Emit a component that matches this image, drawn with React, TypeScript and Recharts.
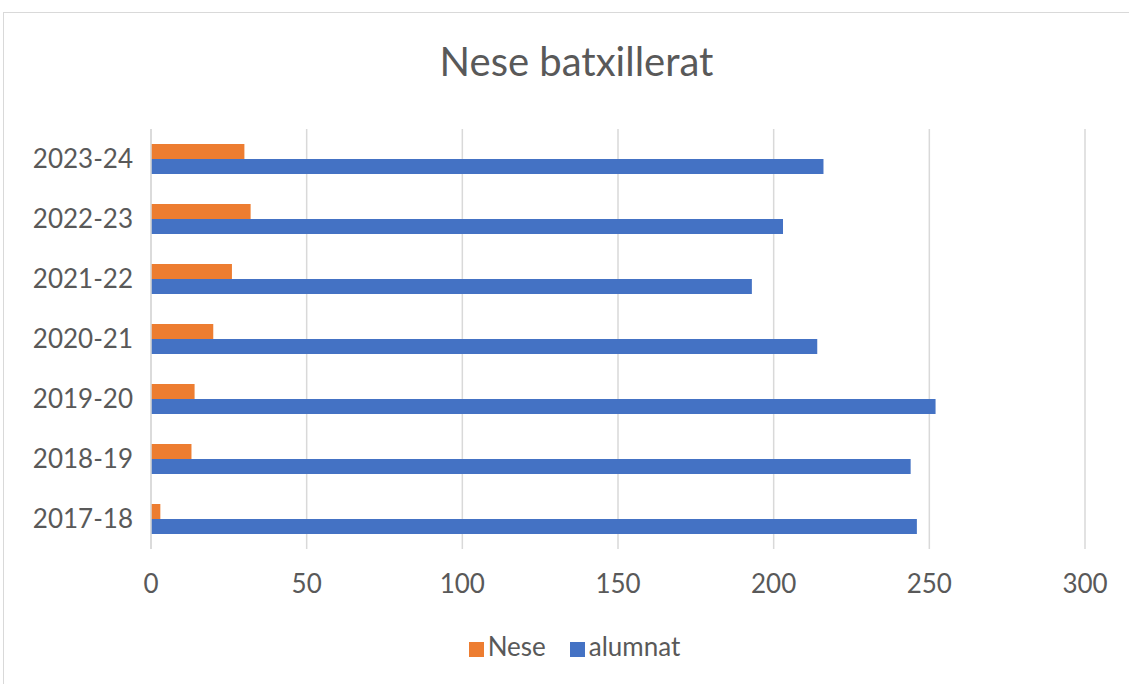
import { BarChart, Bar, XAxis, YAxis, CartesianGrid, Legend } from 'recharts';

// school years, top to bottom as in the chart
const years = ['2023-24', '2022-23', '2021-22', '2020-21', '2019-20', '2018-19', '2017-18'];
const nese = [30, 32, 26, 20, 14, 13, 3];
const alumnat = [216, 203, 193, 214, 252, 244, 246];
const xTicks = [0, 50, 100, 150, 200, 250, 300];

const data = years.map((year, i) => ({ year, Nese: nese[i], alumnat: alumnat[i] }));

const FONT = 'Lato, "Open Sans", sans-serif';
const TEXT = '#595959';

export default function App() {
  return (
    <div style={{ position: 'absolute', left: 0, top: 0, width: 1129, height: 684, background: '#fff', overflow: 'hidden', fontFamily: FONT }}>
      <div style={{ position: 'absolute', left: 3, top: 12, width: 1140, height: 700, border: '1px solid #d9d9d9' }} />
      <div style={{ position: 'absolute', top: 37, left: 12, width: 1129, textAlign: 'center', fontSize: 40, color: TEXT }}>
        Nese batxillerat
      </div>
      <div style={{ position: 'absolute', left: 0, top: 0 }}>
        <BarChart
          width={1129}
          height={684}
          data={data}
          layout="vertical"
          margin={{ top: 129, right: 44, left: 8, bottom: 43 }}
          barCategoryGap="25%"
          barGap={0}
        >
          <CartesianGrid horizontal={false} stroke="#d9d9d9" strokeWidth={1.5} />
          <XAxis
            type="number"
            domain={[0, 300]}
            ticks={xTicks}
            axisLine={false}
            tickLine={false}
            height={60}
            tickMargin={20}
            tick={{ fill: TEXT, fontSize: 26, fontFamily: FONT }}
          />
          <YAxis
            type="category"
            dataKey="year"
            width={143}
            axisLine={{ stroke: '#d9d9d9', strokeWidth: 1.5 }}
            tickLine={false}
            tickMargin={12}
            tick={{ fill: TEXT, fontSize: 26, fontFamily: FONT }}
          />
          <Legend
            verticalAlign="bottom"
            iconType="square"
            iconSize={15}
            wrapperStyle={{ bottom: 22, left: 22, width: 1129, fontSize: 26, fontFamily: FONT, color: TEXT }}
            formatter={(value) => <span style={{ color: TEXT, marginRight: 14 }}>{value}</span>}
          />
          <Bar dataKey="Nese" fill="#ED7D31" isAnimationActive={false} />
          <Bar dataKey="alumnat" fill="#4472C4" isAnimationActive={false} />
        </BarChart>
      </div>
    </div>
  );
}
